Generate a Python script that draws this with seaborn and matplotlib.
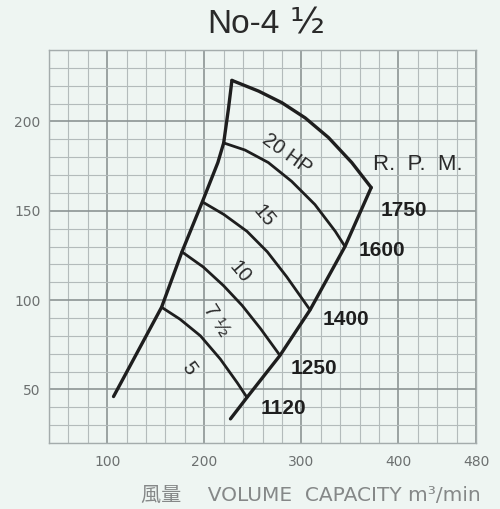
import matplotlib
matplotlib.use("Agg")
import matplotlib.pyplot as plt
import seaborn as sns

# boundary lines of the operating region (m3/min vs mmAq)
left_x = [106.5, 156, 177, 198, 214, 220, 225, 228.5]
left_y = [46, 96, 127, 155, 177, 188, 207.5, 223]
top_x = [228.5, 256, 280, 304, 328, 352, 372]
top_y = [223, 217, 210.5, 202, 191, 177, 163]
rpm_x = [372, 345, 309, 278, 244, 227]
rpm_y = [163, 130, 94.5, 69, 45.5, 33.5]

# horsepower curves, named by the rpm they end on
c1120_x = [156, 175, 196, 216.5, 234, 244]
c1120_y = [96, 89.3, 80, 67, 53.7, 45.5]
c1250_x = [177, 199, 220, 239, 258, 278]
c1250_y = [127, 118.5, 108, 97, 84, 69]
c1400_x = [198, 220, 244, 265, 285, 309]
c1400_y = [155, 148, 138.5, 127, 113, 94.5]
c1600_x = [220, 242, 266, 290, 314, 335, 345]
c1600_y = [188, 184, 177, 166.5, 153.5, 138.5, 130]

hp_labels = ["5", "7 ½", "10", "15", "20 HP"]
hp_x = [184, 213, 237, 261, 285]
hp_y = [62, 89, 116, 147, 182]
hp_rot = [-55, -58, -50, -50, -36]

rpm_labels = ["1120", "1250", "1400", "1600", "1750"]
rpm_lx = [282, 313, 346, 383, 406]
rpm_ly = [39.3, 61.5, 89.3, 128, 150]

x_ticks = [100, 200, 300, 400, 480]
y_ticks = [50, 100, 150, 200]

BG = "#eef5f2"
INK = "#1e1e1e"

sns.set_style("white")
plt.rcParams["font.family"] = ["DejaVu Sans", "Noto Sans CJK JP"]

fig = plt.figure(figsize=(5.0, 5.09), dpi=100, facecolor=BG)
ax = fig.add_axes([0.098, 0.1297, 0.854, 0.772])
ax.set_facecolor(BG)

ax.set_xlim(40, 480)
ax.set_ylim(20, 240)
ax.set_xticks(x_ticks)
ax.set_yticks(y_ticks)
ax.set_xticks(range(40, 481, 20), minor=True)
ax.set_yticks(range(20, 241, 10), minor=True)
ax.grid(which="minor", color="#b3bbbb", lw=0.8)
ax.grid(which="major", color="#8c9494", lw=1.2)
ax.set_axisbelow(True)
for s in ax.spines.values():
    s.set_color("#a4acac")
    s.set_linewidth(1.0)
ax.tick_params(axis="x", which="both", length=0, pad=9, labelsize=10, labelcolor="#6c7070")
ax.tick_params(axis="y", which="major", length=4, width=1.2, color="#8c9494", pad=2,
               labelsize=10, labelcolor="#6c7070")
ax.tick_params(axis="y", which="minor", length=0)

for xs, ys, lw in [(left_x, left_y, 2.4), (top_x, top_y, 2.4), (rpm_x, rpm_y, 2.4),
                   (c1120_x, c1120_y, 2.0), (c1250_x, c1250_y, 2.0),
                   (c1400_x, c1400_y, 2.0), (c1600_x, c1600_y, 2.0)]:
    sns.lineplot(x=xs, y=ys, sort=False, estimator=None, color=INK, lw=lw, ax=ax)

for t, x, y, r in zip(hp_labels, hp_x, hp_y, hp_rot):
    ax.text(x, y, t, rotation=r, ha="center", va="center", fontsize=14.5,
            color="#2a2a2a", family="Liberation Sans", rotation_mode="anchor")

for t, x, y in zip(rpm_labels, rpm_lx, rpm_ly):
    ax.text(x, y, t, ha="center", va="center", fontsize=15, fontweight="bold",
            color=INK, family="Liberation Sans")
ax.text(420, 175.8, "R.  P.  M.", ha="center", va="center", fontsize=16,
        color="#2a2a2a", family="Liberation Sans")

ax.set_xlabel("")
ax.set_ylabel("")

fig.text(0.56, 0.951, "No-4", ha="right", va="center", fontsize=24,
         color="#2a2a2a", family="Liberation Sans")
fig.text(0.615, 0.953, "½", ha="center", va="center", fontsize=26,
         color="#2a2a2a", family="DejaVu Sans")
fig.text(0.962, 0.027, "風量　 VOLUME  CAPACITY m³/min", ha="right", va="center",
         fontsize=14.5, color="#858888")

fig.savefig("out.png", dpi=100, facecolor=BG)
